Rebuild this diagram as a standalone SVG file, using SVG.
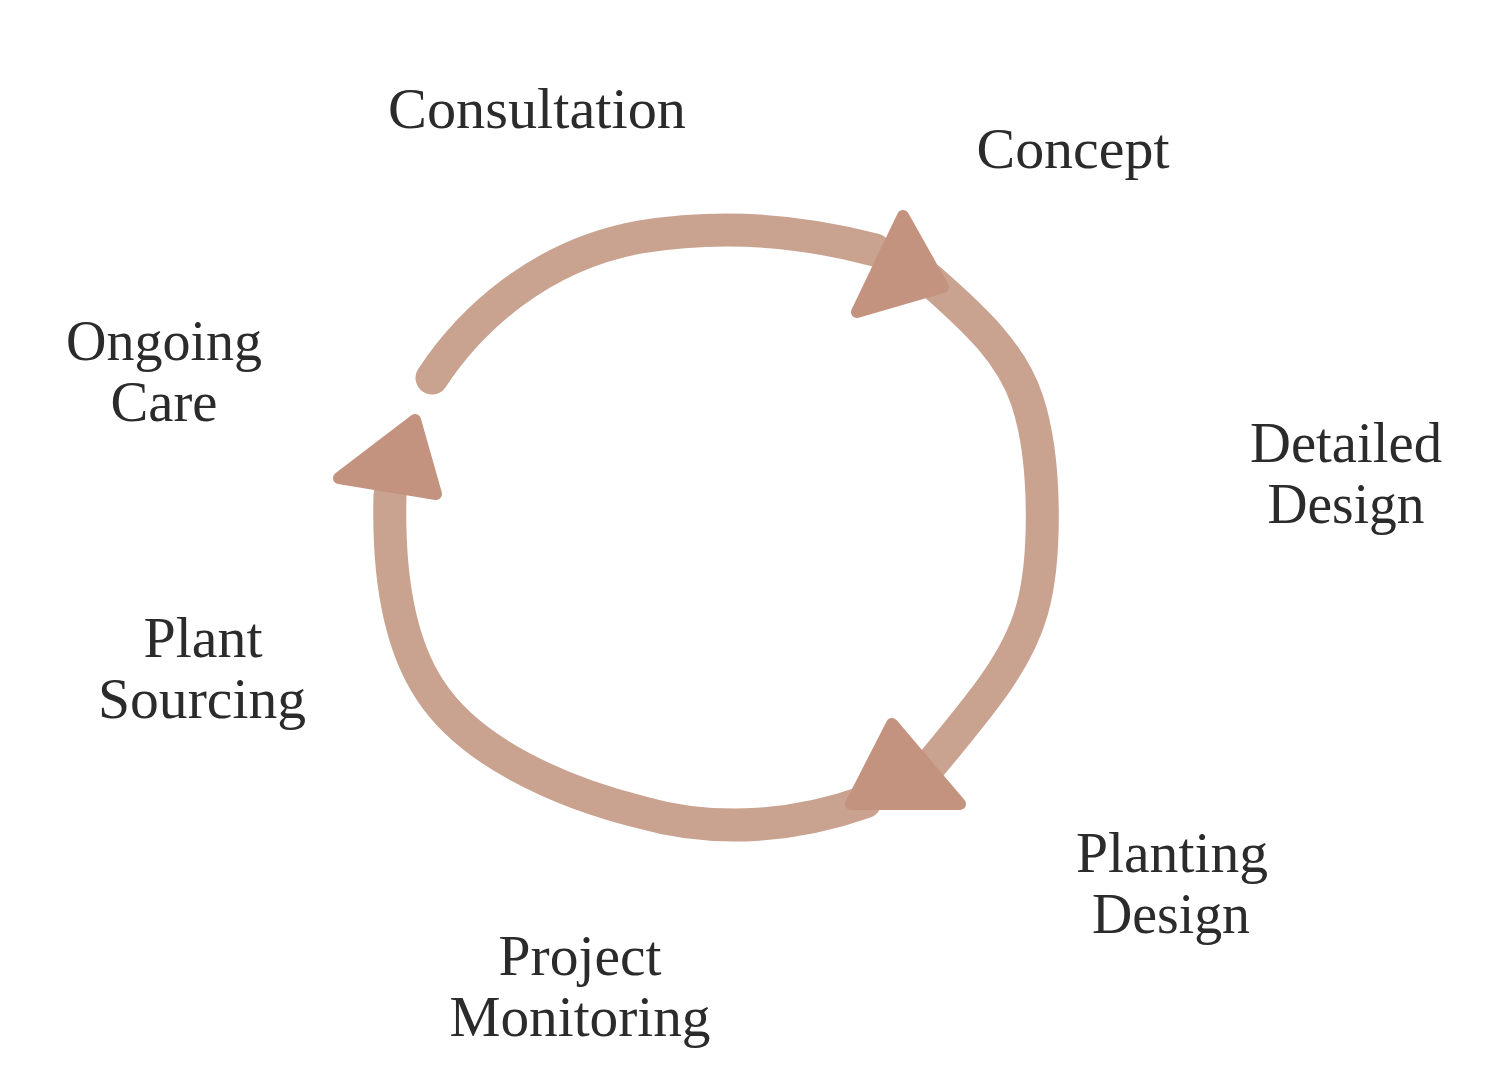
<svg xmlns="http://www.w3.org/2000/svg" width="1500" height="1080" viewBox="0 0 1500 1080">
<style>
.lbl{font-family:"Liberation Serif","Times New Roman",serif;font-size:56px;fill:#2b2b2b;text-anchor:middle}
.arc{fill:none;stroke:#c9a290;stroke-width:33;stroke-linecap:round;stroke-linejoin:round}
.head{fill:#c4937f;stroke:#c4937f;stroke-width:12;stroke-linejoin:round}
</style>
<rect width="1500" height="1080" fill="#ffffff"/>
<g id="connectors">
<path class="arc" d="M 432,378 C 470,320 540,255 640,237 C 720,224 800,230 875,250"/>
<path class="arc" d="M 930,280 C 978,322 1012,355 1027,400 C 1047,460 1046,560 1032,610 C 1018,660 985,700 925,772"/>
<path class="arc" d="M 865,802 C 800,825 720,835 640,812 C 560,792 470,752 430,690 C 397,640 388,570 390,495"/>
<polygon class="head" points="903,216 943,287 857,312"/>
<polygon class="head" points="892,724 960,804 851,804"/>
<polygon class="head" points="415,420 339,478 436,494"/>
</g>
<g id="consultation"><text class="lbl" x="537" y="128" textLength="298" lengthAdjust="spacingAndGlyphs">Consultation</text></g>
<g id="concept"><text class="lbl" x="1073" y="168" textLength="193" lengthAdjust="spacingAndGlyphs">Concept</text></g>
<g id="detailed-design">
<text class="lbl" x="1346" y="462" textLength="192" lengthAdjust="spacingAndGlyphs">Detailed</text>
<text class="lbl" x="1346" y="523" textLength="157" lengthAdjust="spacingAndGlyphs">Design</text>
</g>
<g id="planting-design">
<text class="lbl" x="1172" y="872" textLength="192" lengthAdjust="spacingAndGlyphs">Planting</text>
<text class="lbl" x="1171" y="933" textLength="158" lengthAdjust="spacingAndGlyphs">Design</text>
</g>
<g id="project-monitoring">
<text class="lbl" x="580" y="975" textLength="163" lengthAdjust="spacingAndGlyphs">Project</text>
<text class="lbl" x="580" y="1036" textLength="261" lengthAdjust="spacingAndGlyphs">Monitoring</text>
</g>
<g id="plant-sourcing">
<text class="lbl" x="203" y="657" textLength="119" lengthAdjust="spacingAndGlyphs">Plant</text>
<text class="lbl" x="202" y="718" textLength="208" lengthAdjust="spacingAndGlyphs">Sourcing</text>
</g>
<g id="ongoing-care">
<text class="lbl" x="164" y="360" textLength="196" lengthAdjust="spacingAndGlyphs">Ongoing</text>
<text class="lbl" x="164" y="421" textLength="107" lengthAdjust="spacingAndGlyphs">Care</text>
</g>
</svg>
